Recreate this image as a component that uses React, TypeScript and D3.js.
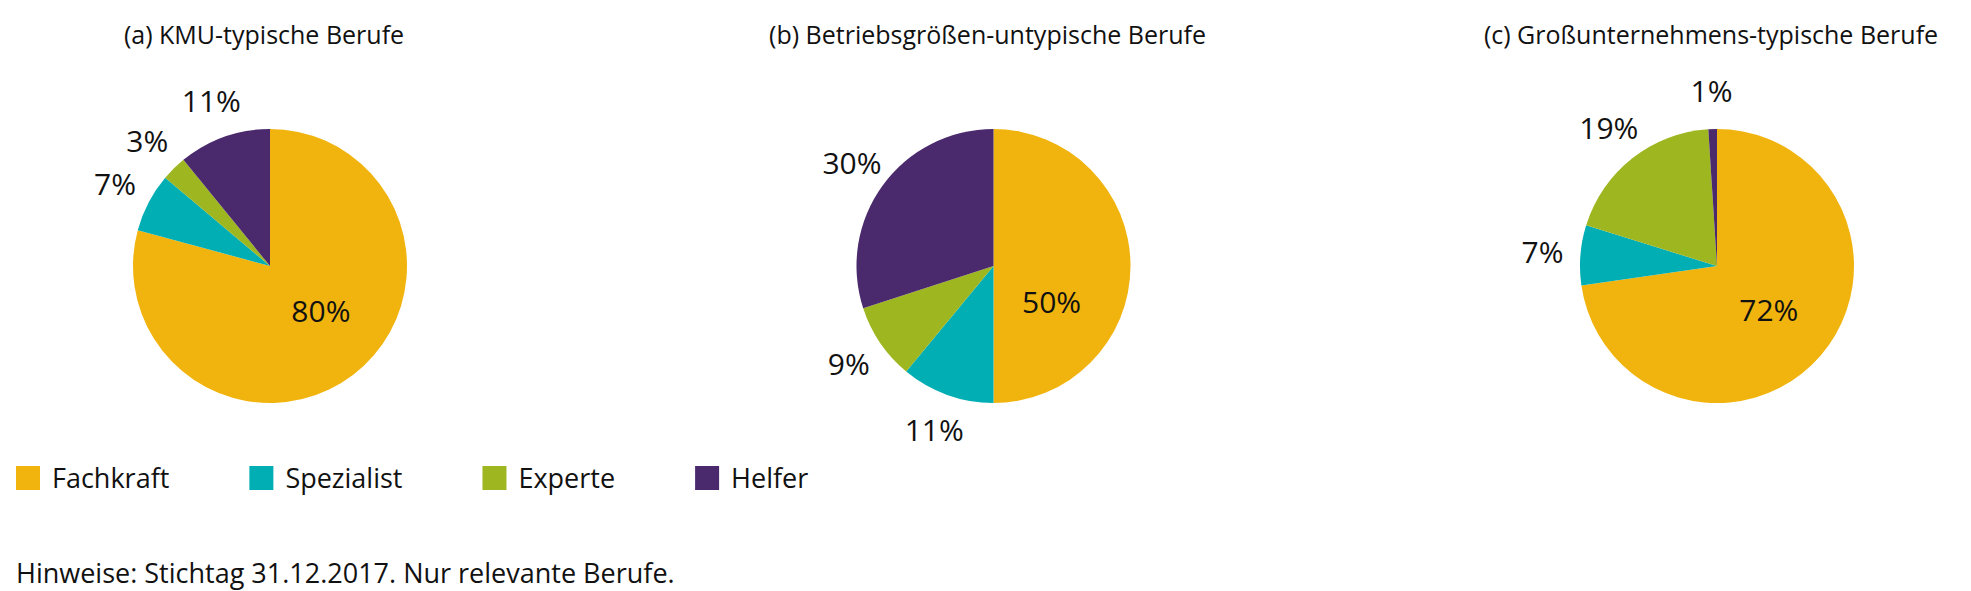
import { useEffect, useRef } from "react";
import * as d3 from "d3";

const categories = ["Fachkraft", "Spezialist", "Experte", "Helfer"];
const categoryColors = ["#f1b40f", "#00aeb4", "#9eb620", "#4a296c"];
const panelTitles = [
  "(a) KMU-typische Berufe",
  "(b) Betriebsgrößen-untypische Berufe",
  "(c) Großunternehmens-typische Berufe",
];
// shares in % per category (Fachkraft, Spezialist, Experte, Helfer)
const kmuShares = [80, 7, 3, 11];
const untypischShares = [50, 11, 9, 30];
const grossShares = [72, 7, 19, 1];
const note = "Hinweise: Stichtag 31.12.2017. Nur relevante Berufe.";

const W = 1971;
const H = 591;
const FONT = "'Open Sans', 'Noto Sans', sans-serif";

export default function App() {
  const ref = useRef<SVGSVGElement | null>(null);

  useEffect(() => {
    const svg = d3.select(ref.current);
    svg.selectAll("*").remove();

    const panels = [kmuShares, untypischShares, grossShares];
    const x = d3.scalePoint<number>().domain(d3.range(panels.length)).range([270, 1717]);
    const cy = 266;
    const radius = 137;
    const color = d3.scaleOrdinal<string, string>().domain(categories).range(categoryColors);

    const pie = d3.pie<number>().sort(null).value((d) => d);
    const arc = d3.arc<d3.PieArcDatum<number>>().innerRadius(0).outerRadius(radius);
    const outerR = 175;
    const deg = Math.PI / 180;

    panels.forEach((values, i) => {
      const cx = x(i)!;
      svg
        .append("text")
        .attr("x", cx - 6)
        .attr("y", 44)
        .attr("text-anchor", "middle")
        .attr("font-size", 25)
        .attr("fill", "#111")
        .text(panelTitles[i]);

      const g = svg.append("g").attr("transform", `translate(${cx},${cy})`);
      const arcs = pie(values);

      g.selectAll("path")
        .data(arcs)
        .join("path")
        .attr("d", arc as any)
        .attr("fill", (_d, j) => color(categories[j]));

      g.selectAll("text")
        .data(arcs)
        .join("text")
        .attr("transform", (d) => {
          const mid = (d.startAngle + d.endAngle) / 2;
          let a = mid;
          let r = outerR;
          if (d.endAngle - d.startAngle > 0.8 * Math.PI) {
            // large slice: label inside, lower right
            a = Math.min(Math.max(mid, 122 * deg), 132 * deg);
            r = radius * 0.5;
          }
          return `translate(${Math.sin(a) * r},${-Math.cos(a) * r})`;
        })
        .attr("text-anchor", "middle")
        .attr("dy", "0.35em")
        .attr("font-size", 30)
        .attr("fill", "#111")
        .text((d) => `${d.data}%`);
    });

    // legend
    const legend = svg.append("g").attr("transform", "translate(16,466)");
    let lx = 0;
    categories.forEach((c) => {
      const item = legend.append("g").attr("transform", `translate(${lx},0)`);
      item.append("rect").attr("width", 24).attr("height", 24).attr("fill", color(c));
      const t = item
        .append("text")
        .attr("x", 36)
        .attr("y", 22)
        .attr("font-size", 27)
        .attr("fill", "#111")
        .text(c);
      const w = (t.node() as SVGTextElement).getComputedTextLength();
      lx += 36 + w + 80;
    });

    svg
      .append("text")
      .attr("x", 16)
      .attr("y", 583)
      .attr("font-size", 27)
      .attr("fill", "#111")
      .text(note);
  }, []);

  return (
    <svg
      ref={ref}
      width={W}
      height={H}
      viewBox={`0 0 ${W} ${H}`}
      style={{ position: "absolute", left: 0, top: 0, background: "#fff", fontFamily: FONT }}
    />
  );
}
